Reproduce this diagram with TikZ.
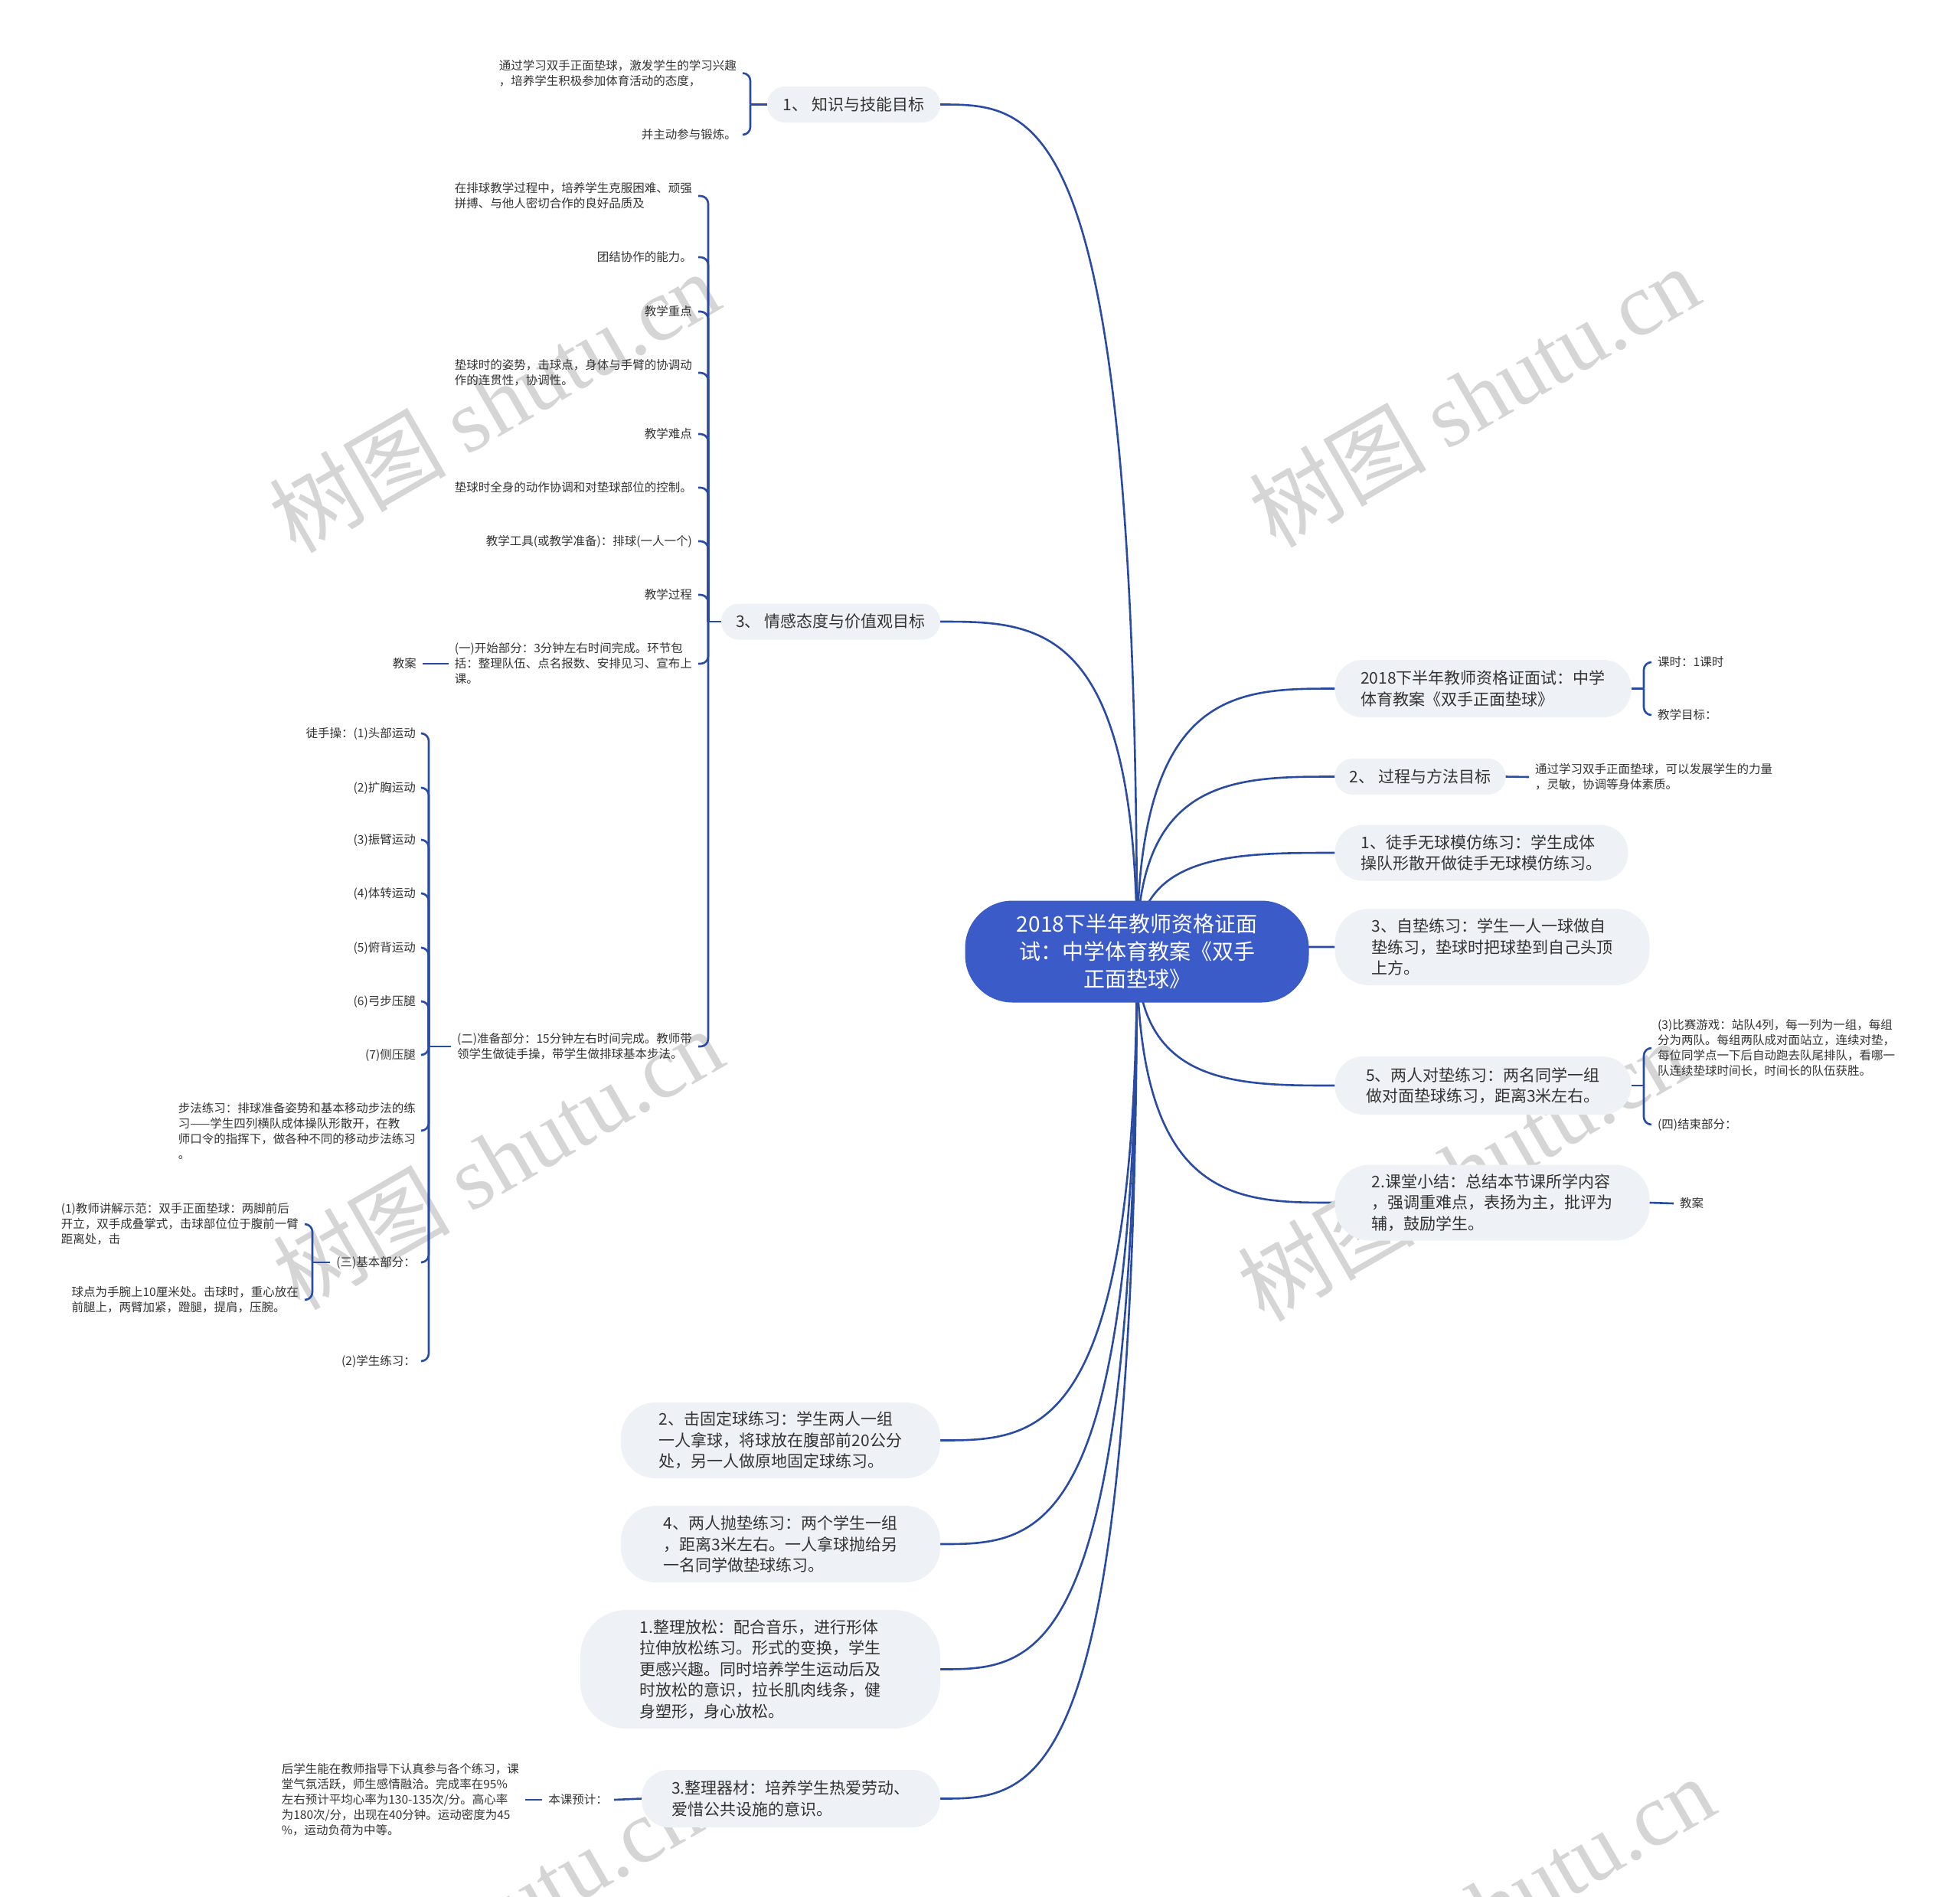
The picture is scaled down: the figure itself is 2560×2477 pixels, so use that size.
\documentclass[tikz,border=0pt]{standalone}
\usepackage{fontspec}
\setmainfont{Noto Sans CJK SC}
\newfontfamily\wmserif{Liberation Serif}
\usetikzlibrary{calc,backgrounds}
\definecolor{conn}{HTML}{2A4BA3}
\definecolor{rootfill}{HTML}{3B5BC9}
\definecolor{boxfill}{HTML}{EEF1F5}
\definecolor{txt}{HTML}{333333}
\definecolor{wm}{HTML}{D5D5D5}
\begin{document}
\begin{tikzpicture}[x=1pt,y=-1pt,
  line/.style={draw=conn, line width=2.6pt},
  bracelink/.style={line, rounded corners=10pt},
  leaf/.style={font=\fontsize{15.5}{20}\selectfont, text=txt, inner xsep=8pt, inner ysep=0pt, align=left},
  box/.style={fill=boxfill, font=\fontsize{21}{27.5}\selectfont, text=txt, align=left, inner sep=0pt, rounded corners=#1},
  wmark/.style={rotate=30, text=wm, font=\fontsize{116}{116}\selectfont}
]
\useasboundingbox (0,0) rectangle (2560,2477);

% watermarks
\begin{scope}
\clip (0,0) rectangle (2560,2477);
\node[wmark] (w1) at (645,524) {树图 {\wmserif shutu.cn}};
\node[wmark] (w2) at (1925,517) {树图 {\wmserif shutu.cn}};
\node[wmark] (w3) at (650,1513) {树图 {\wmserif shutu.cn}};
\node[wmark] (w4) at (1910,1528) {树图 {\wmserif shutu.cn}};
\node[wmark] (w5) at (622,2512) {树图 {\wmserif shutu.cn}};
\node[wmark] (w6) at (1945,2490) {树图 {\wmserif shutu.cn}};
\end{scope}

% root
\node[fill=rootfill, text=white, rounded corners=62pt, minimum width=449pt, minimum height=133pt,
      font=\fontsize{28}{36}\selectfont, align=center, inner sep=0pt] (root) at (1485,1243)
  {2018下半年教师资格证面\\试：中学体育教案《双手\\正面垫球》};

% right level-1 boxes
\node[box=36pt, minimum width=387pt, minimum height=75pt] (R1) at (1937,899.5)
  {2018下半年教师资格证面试：中学\\体育教案《双手正面垫球》};
\node[box=23pt, minimum width=223pt, minimum height=47pt] (R2) at (1855,1014.5)
  {2、 过程与方法目标};
\node[box=36pt, minimum width=383pt, minimum height=73pt] (R3) at (1935,1114)
  {1、徒手无球模仿练习：学生成体\\操队形散开做徒手无球模仿练习。};
\node[box=45pt, minimum width=411pt, minimum height=100pt] (R4) at (1949,1237)
  {3、自垫练习：学生一人一球做自\\垫练习，垫球时把球垫到自己头顶\\上方。};
\node[box=37pt, minimum width=387pt, minimum height=76pt] (R5) at (1937,1418)
  {5、两人对垫练习：两名同学一组\\做对面垫球练习，距离3米左右。};
\node[box=45pt, minimum width=411pt, minimum height=99pt] (R6) at (1949,1571)
  {2.课堂小结：总结本节课所学内容\\，强调重难点，表扬为主，批评为\\辅，鼓励学生。};

% left level-1 boxes
\node[box=23pt, minimum width=226pt, minimum height=47pt] (L1) at (1115,136.5)
  {1、 知识与技能目标};
\node[box=23pt, minimum width=286pt, minimum height=47pt] (L3) at (1085,812)
  {3、 情感态度与价值观目标};
\node[box=45pt, minimum width=417pt, minimum height=99pt] (B1) at (1019.5,1881.5)
  {2、击固定球练习：学生两人一组\\一人拿球，将球放在腹部前20公分\\处，另一人做原地固定球练习。};
\node[box=45pt, minimum width=417pt, minimum height=100pt] (B2) at (1019.5,2017)
  {4、两人抛垫练习：两个学生一组\\，距离3米左右。一人拿球抛给另\\一名同学做垫球练习。};
\node[box=60pt, minimum width=470pt, minimum height=155pt] (B3) at (993,2180.5)
  {1.整理放松：配合音乐，进行形体\\拉伸放松练习。形式的变换，学生\\更感兴趣。同时培养学生运动后及\\时放松的意识，拉长肌肉线条，健\\身塑形，身心放松。};
\node[box=36pt, minimum width=390pt, minimum height=75pt] (B4) at (1033,2349.5)
  {3.整理器材：培养学生热爱劳动、\\爱惜公共设施的意识。};

% right leaves
\node[leaf, anchor=west] (R1a) at (2157,865) {课时：1课时};
\node[leaf, anchor=west] (R1b) at (2157,934) {教学目标：};
\node[leaf, anchor=west] (R2a) at (1997,1015) {通过学习双手正面垫球，可以发展学生的力量\\，灵敏，协调等身体素质。};
\node[leaf, anchor=west] (R5a) at (2157,1369) {(3)比赛游戏：站队4列，每一列为一组，每组\\分为两队。每组两队成对面站立，连续对垫，\\每位同学点一下后自动跑去队尾排队，看哪一\\队连续垫球时间长，时间长的队伍获胜。};
\node[leaf, anchor=west] (R5b) at (2157,1469) {(四)结束部分：};
\node[leaf, anchor=west] (R6a) at (2186,1572) {教案};

% L1 leaves
\node[leaf, anchor=east] (L1a) at (970,95.5) {通过学习双手正面垫球，激发学生的学习兴趣\\，培养学生积极参加体育活动的态度，};
\node[leaf, anchor=east] (L1b) at (970,176) {并主动参与锻炼。};

% L3 leaves
\node[leaf, anchor=east] (c1) at (912,256) {在排球教学过程中，培养学生克服困难、顽强\\拼搏、与他人密切合作的良好品质及};
\node[leaf, anchor=east] (c2) at (912,336) {团结协作的能力。};
\node[leaf, anchor=east] (c3) at (912,407) {教学重点};
\node[leaf, anchor=east] (c4) at (912,487) {垫球时的姿势，击球点，身体与手臂的协调动\\作的连贯性，协调性。};
\node[leaf, anchor=east] (c5) at (912,567) {教学难点};
\node[leaf, anchor=east] (c6) at (912,637) {垫球时全身的动作协调和对垫球部位的控制。};
\node[leaf, anchor=east] (c7) at (912,707) {教学工具(或教学准备)：排球(一人一个)};
\node[leaf, anchor=east] (c8) at (912,777) {教学过程};
\node[leaf, anchor=east] (c9) at (912,867) {(一)开始部分：3分钟左右时间完成。环节包\\括：整理队伍、点名报数、安排见习、宣布上\\课。};
\node[leaf, anchor=east] (c10) at (912,1367) {(二)准备部分：15分钟左右时间完成。教师带\\领学生做徒手操，带学生做排球基本步法。};
\node[leaf, anchor=east] (c9a) at (552,867) {教案};

% c10 leaves
\node[leaf, anchor=east] (d1) at (551,958) {徒手操：(1)头部运动};
\node[leaf, anchor=east] (d2) at (551,1029) {(2)扩胸运动};
\node[leaf, anchor=east] (d3) at (551,1097) {(3)振臂运动};
\node[leaf, anchor=east] (d4) at (551,1167) {(4)体转运动};
\node[leaf, anchor=east] (d5) at (551,1238) {(5)俯背运动};
\node[leaf, anchor=east] (d6) at (551,1308) {(6)弓步压腿};
\node[leaf, anchor=east] (d7) at (551,1378) {(7)侧压腿};
\node[leaf, anchor=east] (d8) at (551,1477) {步法练习：排球准备姿势和基本移动步法的练\\习——学生四列横队成体操队形散开，在教\\师口令的指挥下，做各种不同的移动步法练习\\。};
\node[leaf, anchor=east] (d9) at (551,1649) {(三)基本部分：};
\node[leaf, anchor=east] (d10) at (551,1778) {(2)学生练习：};
\node[leaf, anchor=east] (e1) at (398,1599) {(1)教师讲解示范：双手正面垫球：两脚前后\\开立，双手成叠掌式，击球部位位于腹前一臂\\距离处，击};
\node[leaf, anchor=east] (e2) at (398,1698) {球点为手腕上10厘米处。击球时，重心放在\\前腿上，两臂加紧，蹬腿，提肩，压腕。};

% B4 leaves
\node[leaf, anchor=east] (B4a) at (802,2351) {本课预计：};
\node[leaf, anchor=east] (B4b) at (686,2351) {后学生能在教师指导下认真参与各个练习，课\\堂气氛活跃，师生感情融洽。完成率在95\%\\左右预计平均心率为130-135次/分。高心率\\为180次/分，出现在40分钟。运动密度为45\\\%，运动负荷为中等。};

% spine coordinates
\coordinate (sL1) at (980,136.5);
\coordinate (sL3) at (925,812);
\coordinate (sc10) at (560,1367);
\coordinate (sd9) at (408,1649);
\coordinate (sR1) at (2147,899.5);
\coordinate (sR5) at (2147,1418);

\begin{pgfonlayer}{background}
% root connectors
\foreach \t in {R1,R2,R3,R4,R5,R6}{
  \draw[line] (root.center) .. controls (root.center |- \t.west) and ($(root.center |- \t.west)!0.5!(\t.west)$) .. (\t.west);
}
\foreach \t in {L1,L3,B1,B2,B3,B4}{
  \draw[line] (root.center) .. controls (root.center |- \t.east) and ($(root.center |- \t.east)!0.5!(\t.east)$) .. (\t.east);
}
\end{pgfonlayer}

% stubs
\draw[line] (L1.west) -- (sL1);
\draw[line] (L3.west) -- (sL3);
\draw[line] (c10.west) -- (sc10);
\draw[line] (d9.west) -- (sd9);
\draw[line] (R1.east) -- (sR1);
\draw[line] (R5.east) -- (sR5);
\draw[line] (R2.east) -- (R2a.west);
\draw[line] (R6.east) -- (R6a.west);
\draw[line] (c9.west) -- (c9a.east);
\draw[line] (B4.west) -- (B4a.east);
\draw[line] (B4a.west) -- (B4b.east);

% brace links
\foreach \c in {L1a,L1b}{\draw[bracelink] (sL1) |- (\c.east);}
\foreach \c in {c1,c2,c3,c4,c5,c6,c7,c8,c9,c10}{\draw[bracelink] (sL3) |- (\c.east);}
\foreach \c in {d1,d2,d3,d4,d5,d6,d7,d8,d9,d10}{\draw[bracelink] (sc10) |- (\c.east);}
\foreach \c in {e1,e2}{\draw[bracelink] (sd9) |- (\c.east);}
\foreach \c in {R1a,R1b}{\draw[bracelink] (sR1) |- (\c.west);}
\foreach \c in {R5a,R5b}{\draw[bracelink] (sR5) |- (\c.west);}
\end{tikzpicture}
\end{document}
